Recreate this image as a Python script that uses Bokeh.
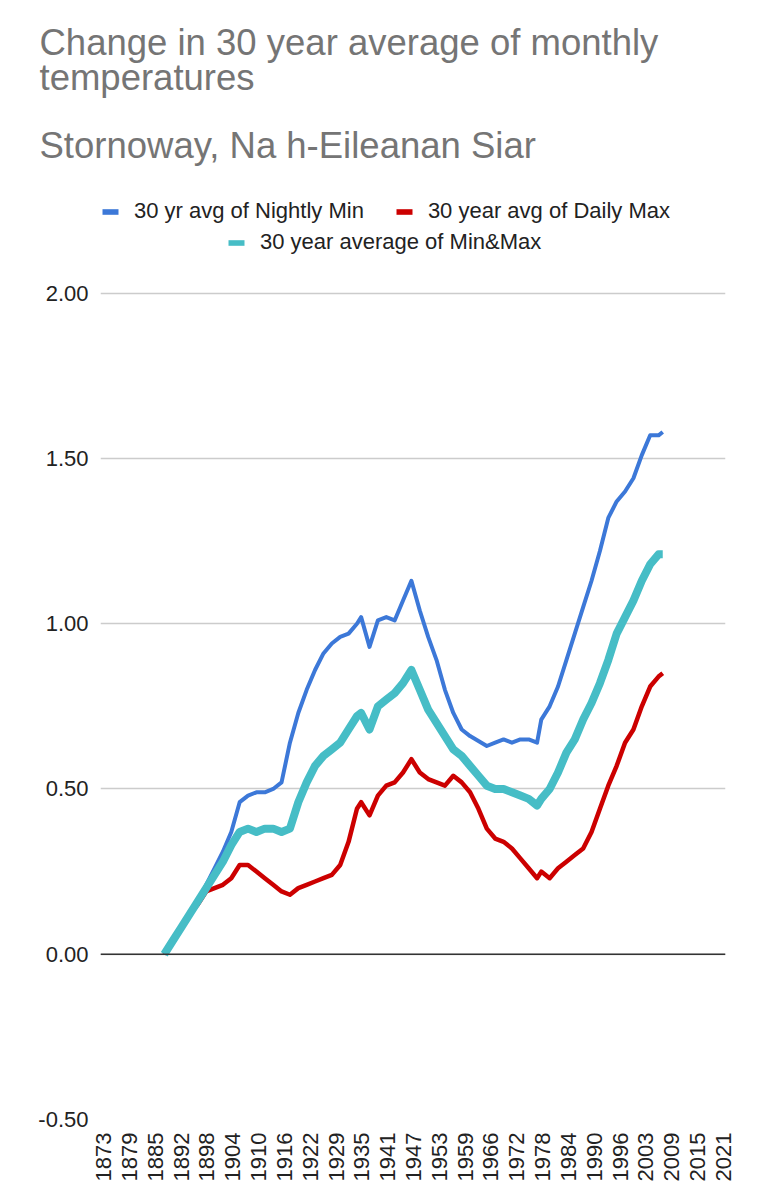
import math
from bokeh.plotting import figure
from bokeh.models import (FixedTicker, Legend, LegendItem, Title, Span, Range1d,
                          PrintfTickFormatter, ColumnDataSource)
from bokeh.embed import file_html
from bokeh.resources import INLINE

# ---------------- data ----------------
title_line1 = "Change in 30 year average of monthly"
title_line2 = "temperatures"
subtitle = "Stornoway, Na h-Eileanan Siar"

name_min = "30 yr avg of Nightly Min"
name_max = "30 year avg of Daily Max"
name_avg = "30 year average of Min&Max"

years = [1888, 1890, 1892, 1894, 1896, 1898, 1900, 1902, 1904, 1906, 1908, 1910,
         1912, 1914, 1916, 1918, 1920, 1922, 1924, 1926, 1928, 1930, 1932, 1934,
         1935, 1937, 1939, 1941, 1943, 1945, 1947, 1949, 1951, 1953, 1955, 1957,
         1959, 1961, 1963, 1965, 1967, 1969, 1971, 1973, 1975, 1977, 1978, 1980,
         1982, 1984, 1986, 1988, 1990, 1992, 1994, 1996, 1998, 2000, 2002, 2004,
         2006, 2007]

nightly_min = [0.00, 0.04, 0.08, 0.12, 0.16, 0.21, 0.26, 0.31, 0.37, 0.46, 0.48, 0.49,
               0.49, 0.50, 0.52, 0.64, 0.73, 0.80, 0.86, 0.91, 0.94, 0.96, 0.97, 1.00,
               1.02, 0.93, 1.01, 1.02, 1.01, 1.07, 1.13, 1.04, 0.96, 0.89, 0.80, 0.73,
               0.68, 0.66, 0.645, 0.63, 0.64, 0.65, 0.64, 0.65, 0.65, 0.64, 0.71, 0.75,
               0.81, 0.89, 0.97, 1.05, 1.13, 1.22, 1.32, 1.37, 1.40, 1.44, 1.51, 1.57,
               1.57, 1.58]

daily_max = [0.00, 0.04, 0.08, 0.12, 0.15, 0.19, 0.20, 0.21, 0.23, 0.27, 0.27, 0.25,
             0.23, 0.21, 0.19, 0.18, 0.20, 0.21, 0.22, 0.23, 0.24, 0.27, 0.34, 0.44,
             0.46, 0.42, 0.48, 0.51, 0.52, 0.55, 0.59, 0.55, 0.53, 0.52, 0.51, 0.54,
             0.52, 0.49, 0.44, 0.38, 0.35, 0.34, 0.32, 0.29, 0.26, 0.23, 0.25, 0.23,
             0.26, 0.28, 0.30, 0.32, 0.37, 0.44, 0.51, 0.57, 0.64, 0.68, 0.75, 0.81,
             0.84, 0.85]

min_max = [0.00, 0.04, 0.08, 0.12, 0.16, 0.20, 0.24, 0.28, 0.33, 0.37, 0.38, 0.37,
           0.38, 0.38, 0.37, 0.38, 0.46, 0.52, 0.57, 0.60, 0.62, 0.64, 0.68, 0.72,
           0.73, 0.68, 0.75, 0.77, 0.79, 0.82, 0.86, 0.80, 0.74, 0.70, 0.66, 0.62,
           0.60, 0.57, 0.54, 0.51, 0.50, 0.50, 0.49, 0.48, 0.47, 0.45, 0.47, 0.50,
           0.55, 0.61, 0.65, 0.71, 0.76, 0.82, 0.89, 0.97, 1.02, 1.07, 1.13, 1.18,
           1.21, 1.21]

x_tick_labels = ["1873", "1879", "1885", "1892", "1898", "1904", "1910", "1916",
                 "1922", "1929", "1935", "1941", "1947", "1953", "1959", "1966",
                 "1972", "1978", "1984", "1990", "1996", "2003", "2009", "2015", "2021"]
y_ticks = [-0.5, 0.0, 0.5, 1.0, 1.5, 2.0]

# ---------------- styling ----------------
BLUE = "#3c78d8"
RED = "#cc0000"
CYAN = "#46bdc6"
FONT = "Liberation Sans"
TITLE_GRAY = "#757575"
TEXT_DARK = "#222222"

W, H = 760, 1195
FRAME_LEFT, FRAME_RIGHT, FRAME_BOTTOM = 100, 725, 1119
PX_PER_UNIT = 330.0
TITLES_H = 178.5                      # estimated height of the title stack
y_top = -0.5 + (FRAME_BOTTOM - TITLES_H) / PX_PER_UNIT

# category axis: one label every 74 months, starting mid-1873
x_tick_pos = [round(1873.5 + k * 74 / 12, 6) for k in range(len(x_tick_labels))]

p = figure(width=W, height=H, output_backend="svg", toolbar_location=None,
           title_location=None,
           x_range=Range1d(1872.78, 2021.98), y_range=Range1d(-0.5, y_top),
           min_border_left=FRAME_LEFT, min_border_right=W - FRAME_RIGHT,
           min_border_top=0, min_border_bottom=H - FRAME_BOTTOM)
p.outline_line_color = None
p.background_fill_color = "white"
p.border_fill_color = "white"

src = ColumnDataSource(dict(year=years, nmin=nightly_min, dmax=daily_max, avg=min_max))
p.line("year", "nmin", source=src, line_color=BLUE, line_width=4, line_join="round")
p.line("year", "dmax", source=src, line_color=RED, line_width=4.5, line_join="round")
p.line("year", "avg", source=src, line_color=CYAN, line_width=8, line_join="round")

# legend swatches: zero-height areas on the series (invisible in the plot)
sw_b = p.varea(x="year", y1="nmin", y2="nmin", source=src, fill_color=BLUE)
sw_r = p.varea(x="year", y1="dmax", y2="dmax", source=src, fill_color=RED)
sw_c = p.varea(x="year", y1="avg", y2="avg", source=src, fill_color=CYAN)

# axes
p.xgrid.grid_line_color = None
p.ygrid.grid_line_color = "#cccccc"
p.ygrid.grid_line_width = 1.3
p.yaxis.ticker = FixedTicker(ticks=y_ticks)
p.yaxis.formatter = PrintfTickFormatter(format="%.2f")
p.xaxis.ticker = FixedTicker(ticks=x_tick_pos)
p.xaxis.major_label_overrides = {pos: lab for pos, lab in zip(x_tick_pos, x_tick_labels)}
p.xaxis.major_label_orientation = math.pi / 2
for ax in (p.xaxis[0], p.yaxis[0]):
    ax.axis_line_color = None
    ax.major_tick_line_color = None
    ax.minor_tick_line_color = None
    ax.major_label_text_font = FONT
    ax.major_label_text_font_size = "22px"
    ax.major_label_text_color = TEXT_DARK
p.yaxis.major_label_standoff = 6
p.xaxis.major_label_standoff = 7

p.add_layout(Span(location=0, dimension="width", line_color="#333333", line_width=1.5))

# legends (screen offsets from the frame's bottom-left corner)
leg_kw = dict(orientation="horizontal", label_text_font=FONT, label_text_font_size="22px",
              label_text_color=TEXT_DARK, glyph_width=20, glyph_height=7,
              label_height=24, label_standoff=14, spacing=30, padding=0, margin=0,
              border_line_color=None, background_fill_alpha=0)
leg1 = Legend(items=[LegendItem(label=name_min, renderers=[sw_b]),
                     LegendItem(label=name_max, renderers=[sw_r])],
              location=(0, FRAME_BOTTOM - 224), **leg_kw)
leg2 = Legend(items=[LegendItem(label=name_avg, renderers=[sw_c])],
              location=(226 - FRAME_LEFT, FRAME_BOTTOM - 255), **leg_kw)
p.add_layout(leg1, "center")
p.add_layout(leg2, "center")

# titles (outermost added last)
def mk_title(text, standoff, size="36.5px"):
    return Title(text=text, align="left", offset=39 - FRAME_LEFT, standoff=standoff,
                 text_font=FONT, text_font_size=size, text_font_style="normal",
                 text_color=TITLE_GRAY)

p.add_layout(mk_title(subtitle, 24), "above")
p.add_layout(mk_title(title_line2, 25.4), "above")
p.add_layout(mk_title(title_line1, -40), "above")
p.add_layout(mk_title(" ", 25.9, size="10px"), "above")   # top spacer

open("out.html", "w").write(file_html(p, INLINE))
